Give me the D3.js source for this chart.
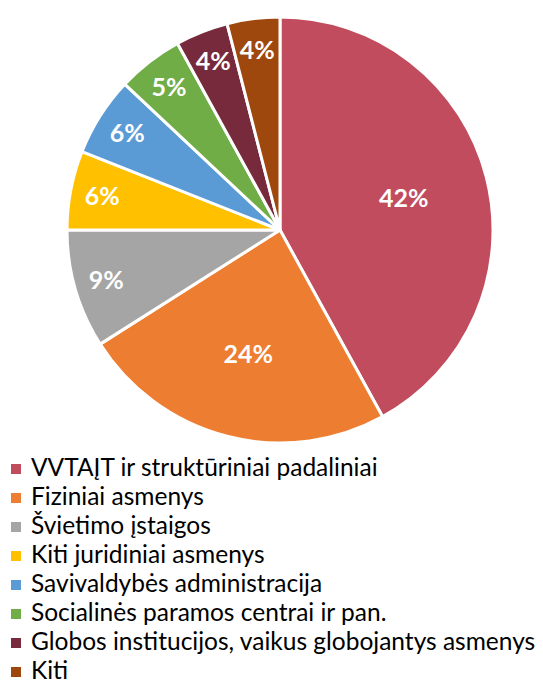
<!DOCTYPE html>
<html>
<head>
  <meta charset="UTF-8">
  <title>Pie</title>
  <style>
    body { margin: 0; background: #ffffff; }
    svg { display: block; }
  </style>
</head>
<body>
<svg></svg>
<script src="https://d3js.org/d3.v7.min.js"></script>
<script>

let width = 543, height = 690;

// data
const categories = [
  "VVTAĮT ir struktūriniai padaliniai",
  "Fiziniai asmenys",
  "Švietimo įstaigos",
  "Kiti juridiniai asmenys",
  "Savivaldybės administracija",
  "Socialinės paramos centrai ir pan.",
  "Globos institucijos, vaikus globojantys asmenys",
  "Kiti"
];
const values = [42, 24, 9, 6, 6, 5, 4, 4];
const colors = ['#C04C5E', '#ED7D31', '#A5A5A5', '#FFC000',
                '#5B9BD5', '#70AD47', '#772A3B', '#9E480E'];

let svg = d3.select("svg")
    .attr("width", width)
    .attr("height", height);

let cx = 280, cy = 230, r = 213;

let pie = d3.pie().sort(null).value(d => d);
let arcs = pie(values);

let arc = d3.arc().innerRadius(0).outerRadius(r);

let g = svg.append("g").attr("transform", "translate(" + cx + "," + cy + ")");

g.selectAll("path")
  .data(arcs)
  .enter()
  .append("path")
    .attr("d", arc)
    .attr("fill", (d, i) => colors[i])
    .attr("stroke", "white")
    .attr("stroke-width", 3)
    .attr("stroke-linejoin", "round");

// big slices get their label nearer the middle, small ones near the rim
g.selectAll("text.lbl")
  .data(arcs)
  .enter()
  .append("text")
    .attr("class", "lbl")
    .attr("transform", d => {
      let k = d.data >= 20 ? 0.6 : 0.85;
      let c = d3.arc().innerRadius(r * k).outerRadius(r * k).centroid(d);
      return "translate(" + c[0] + "," + c[1] + ")";
    })
    .attr("text-anchor", "middle")
    .attr("dy", "0.35em")
    .style("font-family", "Lato, 'Open Sans', sans-serif")
    .style("font-weight", "bold")
    .style("font-size", "25px")
    .attr("fill", "white")
    .text(d => d.data + "%");

// legend
let legend = svg.append("g")
  .selectAll("g")
  .data(categories)
  .enter()
  .append("g")
    .attr("transform", (d, i) => "translate(0," + (469 + i * 29) + ")");

legend.append("rect")
  .attr("x", 11)
  .attr("y", -5)
  .attr("width", 10)
  .attr("height", 10)
  .attr("fill", (d, i) => colors[i]);

legend.append("text")
  .attr("x", 31)
  .attr("y", 7)
  .style("font-family", "Lato, sans-serif")
  .style("font-size", "24.5px")
  .attr("fill", "#000")
  .text(d => d);

</script>
</body>
</html>
